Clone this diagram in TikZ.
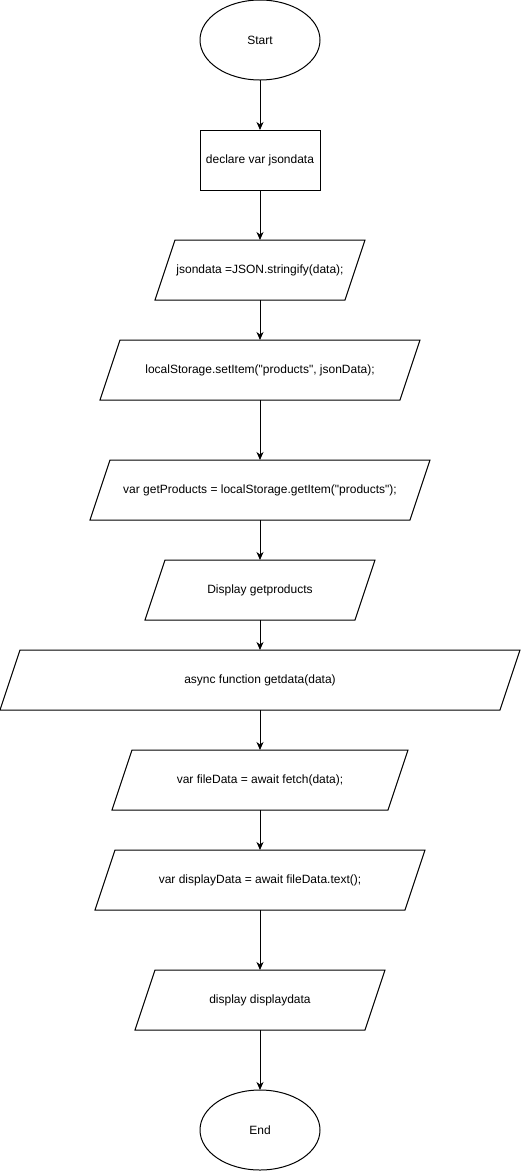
\documentclass[tikz,border=0pt]{standalone}
\usepackage{fontspec}
\setmainfont{Liberation Sans}[Ligatures=TeXOff]
\usetikzlibrary{shapes.geometric,positioning,arrows.meta}

\begin{document}
\begin{tikzpicture}[
    font=\fontsize{12pt}{14pt}\selectfont,
    line width=1pt,
    outer sep=0pt,
    terminal/.style={draw=black, ellipse, minimum width=120pt, minimum height=80pt, inner sep=0pt},
    process/.style={draw=black, rectangle, minimum width=120pt, minimum height=60pt, inner sep=0pt},
    io/.style={draw=black, trapezium, trapezium left angle=71.565, trapezium right angle=108.435,
        trapezium stretches body, text height=9pt, text depth=3pt, inner xsep=0pt, inner ysep=24pt,
        minimum height=60pt, minimum width=#1},
    flow/.style={-{Stealth[length=8pt, width=7pt, inset=2.5pt]}}
]
    \useasboundingbox (0,0) rectangle (521pt,-1171pt);

    \node[terminal] (start) at (260pt,-40pt) {Start};
    \node[process, below=50pt of start] (declare) {declare var jsondata};
    \node[io=210pt, below=50pt of declare] (stringify) {jsondata =JSON.stringify(data);};
    \node[io=320pt, below=40pt of stringify] (setitem) {localStorage.setItem("products", jsonData);};
    \node[io=340pt, below=60pt of setitem] (getitem) {var getProducts = localStorage.getItem("products");};
    \node[io=230pt, below=40pt of getitem] (showproducts) {Display getproducts};
    \node[io=520pt, below=30pt of showproducts] (getdata) {async function getdata(data)};
    \node[io=296pt, below=40pt of getdata] (filedata) {var fileData = await fetch(data);};
    \node[io=330pt, below=40pt of filedata] (displaydata) {var displayData = await fileData.text();};
    \node[io=250pt, below=60pt of displaydata] (showdata) {display displaydata};
    \node[terminal, below=60pt of showdata] (end) {End};

    \draw[flow] (start) -- (declare);
    \draw[flow] (declare) -- (stringify);
    \draw[flow] (stringify) -- (setitem);
    \draw[flow] (setitem) -- (getitem);
    \draw[flow] (getitem) -- (showproducts);
    \draw[flow] (showproducts) -- (getdata);
    \draw[flow] (getdata) -- (filedata);
    \draw[flow] (filedata) -- (displaydata);
    \draw[flow] (displaydata) -- (showdata);
    \draw[flow] (showdata) -- (end);
\end{tikzpicture}
\end{document}
